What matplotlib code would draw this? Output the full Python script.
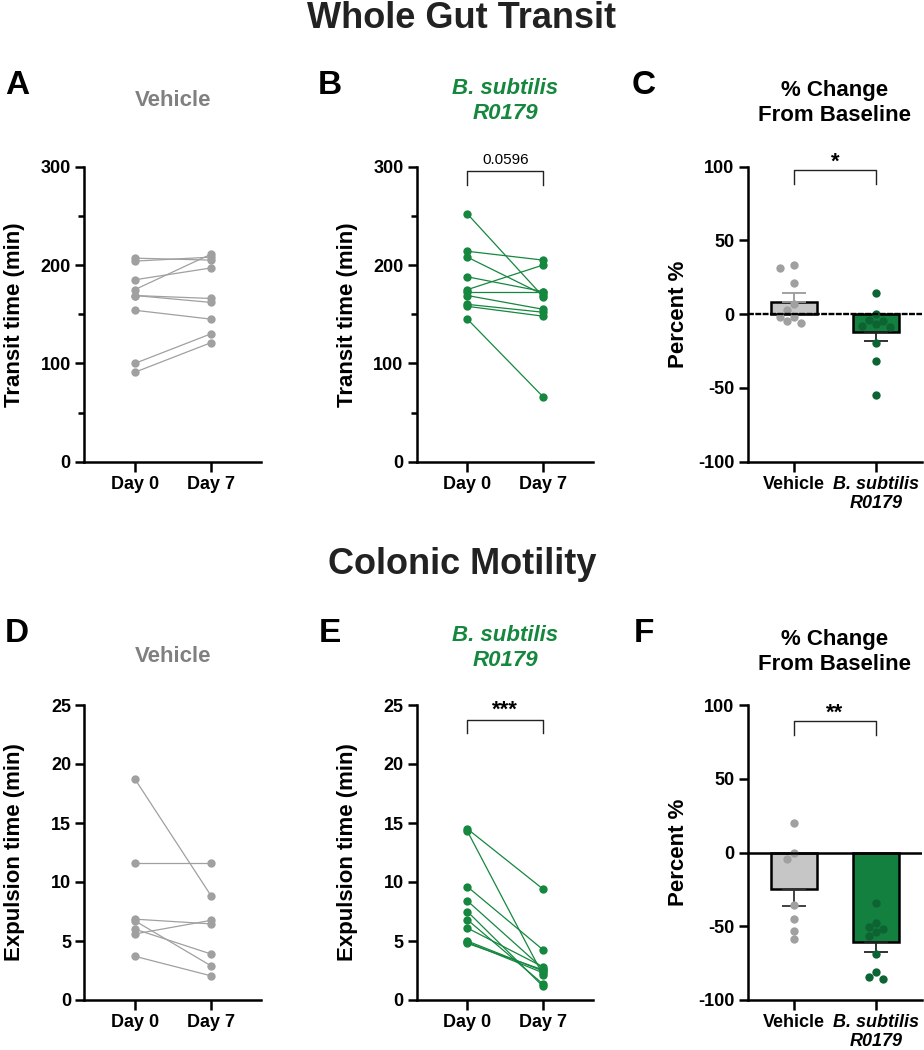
import numpy as np
import matplotlib.pyplot as plt
from matplotlib.ticker import MultipleLocator

plt.rcParams['font.family'] = ['Liberation Sans', 'DejaVu Sans']
plt.rcParams['axes.unicode_minus'] = False

# Whole gut transit (min), paired Day 0 / Day 7
veh_tr_d0 = [207, 204, 185, 175, 169, 169, 154, 100, 91]
veh_tr_d7 = [205, 208, 197, 211, 166, 162, 145, 130, 121]
bs_tr_d0 = [252, 214, 208, 188, 175, 173, 169, 160, 158, 145]
bs_tr_d7 = [168, 205, 170, 173, 200, 173, 155, 152, 148, 66]

# % change from baseline, transit
veh_tr_pct = [33.2, 31.6, 21.2, 6.8, 2.7, -1.8, -1.8, -4.5, -5.9]
bs_tr_pct = [14.5, 0, -4.5, -4, -6.8, -9, -8.1, -19.4, -31.6, -54.9]
tr_mean = [8.5, -12.0]
tr_sem = [6.0, 6.5]

# Colonic motility, expulsion time (min)
veh_ex_d0 = [18.7, 11.65, 5.6, 6.85, 6.0, 3.7, 6.7]
veh_ex_d7 = [8.85, 11.65, 6.75, 6.45, 3.9, 2.05, 2.9]
bs_ex_d0 = [14.5, 14.3, 9.6, 8.4, 7.5, 6.8, 6.1, 5.0, 4.9, 4.8]
bs_ex_d7 = [9.4, 2.1, 4.25, 2.65, 1.15, 1.35, 2.8, 2.45, 2.3, 2.55]

# % change from baseline, expulsion
veh_ex_pct = [19.8, -0.6, -4.4, -35.6, -45, -53, -58.6]
bs_ex_pct = [-34.5, -47.6, -50.7, -52, -54.2, -56.6, -69, -81.3, -86, -84.2]
ex_mean = [-24.5, -61.0]
ex_sem = [12.0, 6.3]

days = ['Day 0', 'Day 7']
groups = ['Vehicle', 'B. subtilis\nR0179']

GRAY = '#a0a0a0'
GREEN = '#15873f'
BAR_GREEN = '#13803f'
DOT_GREEN = '#0d6432'
BAR_GRAY = '#c6c6c6'
W, H = 924, 1050

fig = plt.figure(figsize=(W / 100, H / 100), dpi=100)


def px_axes(x0, y0, x1, y1):
    return fig.add_axes([x0 / W, 1 - y1 / H, (x1 - x0) / W, (y1 - y0) / H])


def style(ax):
    for s in ['top', 'right']:
        ax.spines[s].set_visible(False)
    for s in ['left', 'bottom']:
        ax.spines[s].set_linewidth(1.8)
    ax.tick_params(which='major', length=6.5, width=1.8, labelsize=13, pad=3)
    ax.tick_params(axis='y', which='minor', length=4.0, width=1.8, left=True)
    ax.tick_params(axis='x', length=7)
    for lab in ax.get_xticklabels() + ax.get_yticklabels():
        lab.set_fontweight('bold')


def paired(ax, d0, d7, color, ymax, major, minor, ylabel):
    for a, b in zip(d0, d7):
        ax.plot([0, 1], [a, b], '-', color=color, lw=0.9, zorder=2)
    ax.plot(np.zeros(len(d0)), d0, 'o', color=color, ms=6, mec='none', zorder=3)
    ax.plot(np.ones(len(d7)), d7, 'o', color=color, ms=6, mec='none', zorder=3)
    ax.set_xlim(-0.67, 1.66)
    ax.set_ylim(0, ymax)
    ax.set_xticks([0, 1])
    ax.set_xticklabels(days)
    ax.yaxis.set_major_locator(MultipleLocator(major))
    if minor:
        ax.yaxis.set_minor_locator(MultipleLocator(minor))
    style(ax)
    ax.set_ylabel(ylabel, fontsize=16, fontweight='bold', va='center')
    ax.yaxis.set_label_coords(-0.395, 0.5)


def swarm(vals, ypx, xpx, d=7.4, step=7.0):
    vals = np.asarray(vals, float)
    offs = np.zeros(len(vals))
    placed = []
    cands = sorted(np.arange(-6, 6.5, 1.0) * step, key=lambda v: (abs(v), v))
    for i in np.argsort(-vals):
        y = vals[i] * ypx
        for c in cands:
            if all((c - px) ** 2 + (y - py) ** 2 >= d * d for px, py in placed):
                break
        placed.append((c, y))
        offs[i] = c / xpx
    return offs


def bars(ax, veh, bs, means, sems, veh_err_color, dashed_zero):
    width = 0.56
    ax.bar([0, 1], means, width=width, color=[BAR_GRAY, BAR_GREEN],
           edgecolor='black', linewidth=1.8, zorder=2)
    for x, m, s, c in zip([0, 1], means, sems, [veh_err_color, '#222222']):
        yerr = [[0], [s]] if m > 0 else [[s], [0]]
        ax.errorbar([x], [m], yerr=yerr, fmt='none', ecolor=c, elinewidth=1.3,
                    capsize=8.5, capthick=1.3, zorder=3)
    ypx = 295 / 200.0
    xpx = 82.0
    ax.plot(0 + swarm(veh, ypx, xpx), veh, 'o', color=GRAY, ms=6, mec='none', zorder=4)
    ax.plot(1 + swarm(bs, ypx, xpx), bs, 'o', color=DOT_GREEN, ms=6, mec='none', zorder=4)
    if dashed_zero:
        ax.axhline(0, color='black', lw=1.7, ls=(0, (2.5, 0.6)), zorder=5)
    else:
        ax.axhline(0, color='black', lw=1.8, zorder=5)
    ax.set_xlim(-0.565, 1.56)
    ax.set_ylim(-100, 100)
    ax.set_yticks([-100, -50, 0, 50, 100])
    ax.set_xticks([0, 1])
    ax.set_xticklabels(groups)
    style(ax)
    labs = ax.get_xticklabels()
    labs[1].set_fontstyle('italic')
    ax.set_ylabel('Percent %', fontsize=16, fontweight='bold', va='center')
    ax.yaxis.set_label_coords(-0.395, 0.5)


def bracket(ax, y_line, y_end, text, size, weight, gap):
    ax.plot([0, 0, 1, 1], [y_end, y_line, y_line, y_end], color='#222222',
            lw=1.0, clip_on=False)
    ax.text(0.5, y_line + gap, text, ha='center', va='bottom', fontsize=size,
            fontweight=weight, clip_on=False)


axA = px_axes(84, 166.7, 261, 461.7)
paired(axA, veh_tr_d0, veh_tr_d7, GRAY, 300, 100, 50, 'Transit time (min)')

axB = px_axes(416.7, 166.7, 593, 461.7)
paired(axB, bs_tr_d0, bs_tr_d7, GREEN, 300, 100, 50, 'Transit time (min)')
bracket(axB, 296, 281, '0.0596', 11, 'normal', 4)

axC = px_axes(747.7, 166.7, 922, 461.7)
bars(axC, veh_tr_pct, bs_tr_pct, tr_mean, tr_sem, '#9a9a9a', True)
bracket(axC, 97.6, 88.5, '*', 16, 'bold', -2)

axD = px_axes(84.3, 705, 261, 1000)
paired(axD, veh_ex_d0, veh_ex_d7, GRAY, 25, 5, None, 'Expulsion time (min)')

axE = px_axes(416.7, 705, 593, 1000)
paired(axE, bs_ex_d0, bs_ex_d7, GREEN, 25, 5, None, 'Expulsion time (min)')
bracket(axE, 23.75, 22.6, '***', 16, 'bold', -0.1)

axF = px_axes(747.7, 705, 922, 1000)
bars(axF, veh_ex_pct, bs_ex_pct, ex_mean, ex_sem, '#333333', False)
bracket(axF, 89.2, 79.7, '**', 16, 'bold', -2)


def ftext(x, y, s, **kw):
    fig.text(x / W, 1 - y / H, s, **kw)


ftext(462, 19, 'Whole Gut Transit', ha='center', va='center', fontsize=26,
      fontweight='bold', color='#222222')
ftext(462, 565, 'Colonic Motility', ha='center', va='center', fontsize=26,
      fontweight='bold', color='#222222')

for (x, y), letter in zip([(17, 85), (330, 85), (644, 85), (17, 633), (330, 633), (644, 633)],
                          'ABCDEF'):
    ftext(x, y, letter, ha='center', va='center', fontsize=24, fontweight='bold')

ftext(173, 100, 'Vehicle', ha='center', va='center', fontsize=16,
      fontweight='bold', color='#808080')
ftext(173, 657, 'Vehicle', ha='center', va='center', fontsize=16,
      fontweight='bold', color='#808080')
for y in (101, 648):
    ftext(505, y, 'B. subtilis\nR0179', ha='center', va='center', fontsize=16,
          fontweight='bold', fontstyle='italic', color=GREEN, linespacing=1.3)
for y in (103, 652):
    ftext(835, y, '% Change\nFrom Baseline', ha='center', va='center', fontsize=16,
          fontweight='bold', linespacing=1.3)

fig.savefig('out.png', dpi=100)
